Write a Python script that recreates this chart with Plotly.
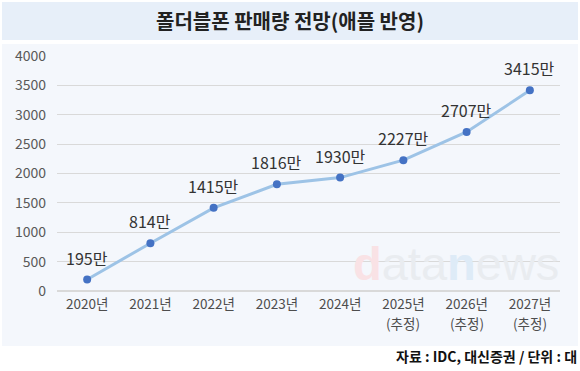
import plotly.graph_objects as go

categories = ["2020년", "2021년", "2022년", "2023년", "2024년", "2025년", "2026년", "2027년"]
estimate_flags = ["", "", "", "", "", "(추정)", "(추정)", "(추정)"]
sales = [195, 814, 1415, 1816, 1930, 2227, 2707, 3415]
value_labels = [f"{v}만" for v in sales]
y_ticks = [0, 500, 1000, 1500, 2000, 2500, 3000, 3500, 4000]

W, H = 580, 371
L, R, T, B = 57, 20, 56, 80
PW, PH = W - L - R, H - T - B

def px(x):
    return (x - L) / PW

def py(y):
    return (H - B - y) / PH

font = "Noto Sans CJK KR, Noto Sans, sans-serif"

fig = go.Figure()
fig.add_trace(go.Scatter(
    x=categories, y=sales, mode="lines+markers",
    line=dict(color="#9dc3e6", width=3),
    marker=dict(color="#4472c4", size=8),
    hoverinfo="skip", cliponaxis=False,
))

annotations = []
for c, v, t in zip(categories, sales, value_labels):
    annotations.append(dict(x=c, y=v, xref="x", yref="y", text=t, showarrow=False, xanchor="center",
                            yshift=22, font=dict(size=16, color="#333333", family=font)))
for c, f in zip(categories, estimate_flags):
    if f:
        annotations.append(dict(x=c, y=0, xref="x", yref="y", text=f, showarrow=False, xanchor="center",
                                yanchor="middle", yshift=-32, font=dict(size=13.5, color="#4d4d4d", family=font)))

annotations.append(dict(xref="paper", yref="paper", x=px(290), y=py(20), xanchor="center", yanchor="middle",
                        text="<b>폴더블폰 판매량 전망(애플 반영)</b>",
                        showarrow=False, font=dict(size=20, color="#222222", family=font)))
annotations.append(dict(xref="paper", yref="paper", x=px(579), y=py(356), xanchor="right", yanchor="middle",
                        text="<b>자료 : IDC, 대신증권 / 단위 : 대</b>", showarrow=False,
                        font=dict(size=14, color="#111111", family=font)))
annotations.append(dict(xref="paper", yref="paper", x=px(456), y=py(263), xanchor="center", yanchor="middle",
                        text="<span style='color:#f9e2e5'><b>d</b></span>ata<span style='color:#deebf7'><b>n</b></span>ews",
                        showarrow=False, font=dict(size=47, color="#e9ecf0", family="Liberation Sans, Arial, sans-serif")))

shapes = [
    dict(type="rect", xref="paper", yref="paper", x0=px(2), x1=px(578), y0=py(40), y1=py(2),
         fillcolor="#e7eff9", line=dict(width=0), layer="below"),
    dict(type="rect", xref="paper", yref="paper", x0=px(2), x1=px(578), y0=py(346), y1=py(44),
         fillcolor="#f4f7fc", line=dict(width=0), layer="below"),
]

fig.update_layout(
    width=W, height=H,
    margin=dict(l=L, r=R, t=T, b=B),
    paper_bgcolor="white", plot_bgcolor="rgba(0,0,0,0)",
    showlegend=False,
    annotations=annotations, shapes=shapes,
    font=dict(family=font, color="#555555", size=13),
    xaxis=dict(tickvals=categories, ticktext=categories, showgrid=False, zeroline=False,
               showline=False, ticks="", ticklabelstandoff=3, tickfont=dict(size=13.5, color="#4d4d4d")),
    yaxis=dict(range=[0, 4000], tickvals=y_ticks, showgrid=True, gridcolor="#d9d9d9", gridwidth=1,
               zeroline=True, zerolinecolor="#d9d9d9", showline=False, ticks="", ticklabelstandoff=10,
               tickfont=dict(size=14, color="#595959")),
)

fig.write_html("out.html", config={"displayModeBar": False},
               post_script="document.body.style.margin='0';document.body.style.padding='0';")
